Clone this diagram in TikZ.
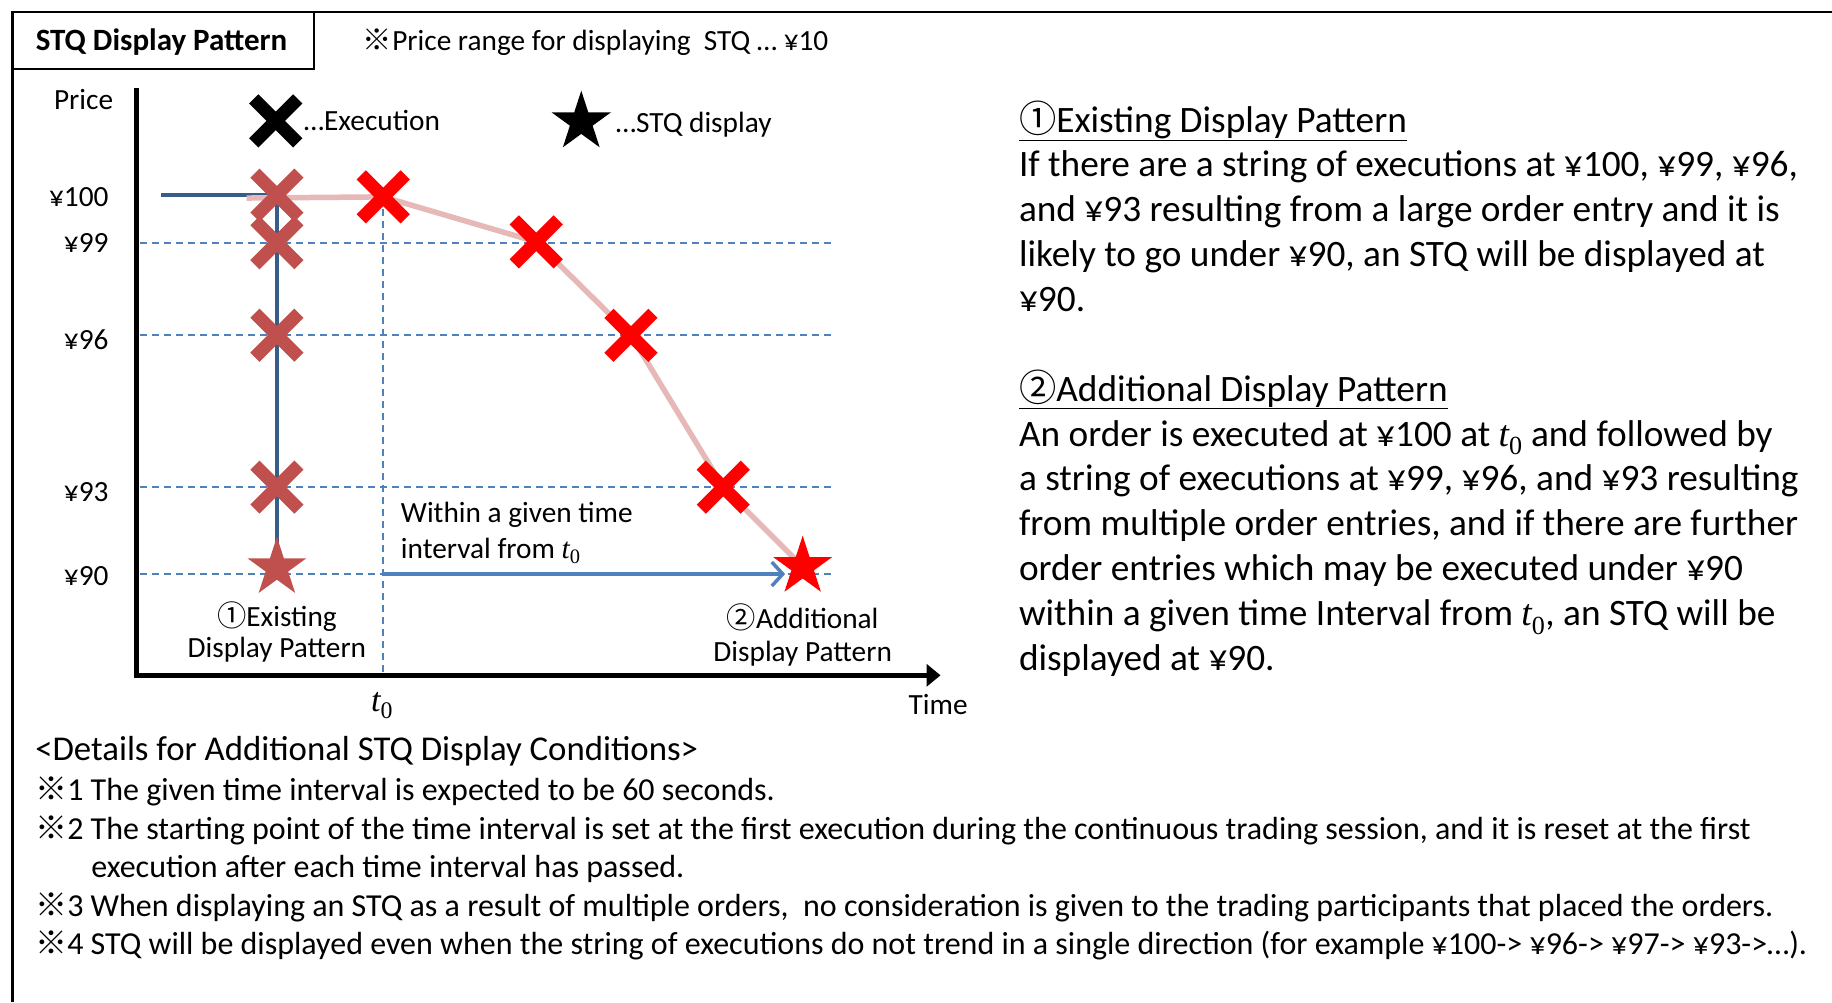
\documentclass[tikz,border=0pt]{standalone}
\usepackage{fontspec}
\setmainfont{Carlito}
\newfontfamily\cjk{Noto Sans CJK JP}
\newfontfamily\serif{Liberation Serif}
\usetikzlibrary{backgrounds,shapes.geometric,shapes.misc,arrows.meta}

\definecolor{exred}{HTML}{FF0000}
\definecolor{oldred}{HTML}{C0504D}
\definecolor{pathpink}{HTML}{E6B9B8}
\definecolor{lineblue}{HTML}{4F81BD}
\definecolor{darkblue}{HTML}{385D8A}

\newcommand{\kome}{{\cjk ※}}
\newcommand{\circone}{{\cjk ①}}
\newcommand{\circtwo}{{\cjk ②}}
\newcommand{\tzero}{{\serif\itshape t}\textsubscript{\serif 0}}

\begin{document}
\begin{tikzpicture}[
    x=1.1684pt, y=-1.1684pt,
    every node/.style={inner sep=0pt},
    lbl/.style={font=\fontsize{29.3}{35}\selectfont},
    body/.style={font=\fontsize{37.3}{45}\selectfont, anchor=base west},
    note/.style={font=\fontsize{32}{39}\selectfont, anchor=base west},
    pricegrid/.style={lineblue, line width=2pt, dash pattern=on 7pt off 5pt},
    execx/.style={cross out, draw=#1, line width=13pt, minimum size=31pt},
    stqstar/.style={star, star points=5, star point ratio=2.618, fill=#1, minimum size=62pt}
    ]

    \useasboundingbox (0,0) rectangle (1568,858);

    % frame and title
    \draw[line width=2.3pt] (10.6,858) -- (10.6,10) -- (1568,10);
    \draw[line width=1.8pt] (10.6,10) rectangle (269,59.3);
    \node[anchor=base, font=\bfseries\fontsize{31}{36}\selectfont] (title) at (138.3,43.5) {STQ Display Pattern};
    \node[lbl, anchor=base west] (range) at (310.5,43.5) {\kome Price range for displaying\ \ STQ … ¥10};

    % axes
    \coordinate (ytop) at (117,75);
    \coordinate (origin) at (117,578);
    \coordinate (xend) at (805,578);
    \draw[line width=4.7pt, line join=miter, -{Triangle[length=14pt,width=22pt]}] (ytop) -- (origin) -- (xend);
    \node[lbl, anchor=base east] (price) at (97,94) {Price};
    \foreach \p/\y in {100/177,99/216,96/299,93/429,90/501}
      \node[lbl, anchor=base east] (y\p) at (93,\y) {¥\p};
    \node[lbl, anchor=base, font=\fontsize{34}{40}\selectfont] (t0) at (327,608.6) {\tzero};
    \node[lbl, anchor=base] (time) at (803,611.7) {Time};

    % legend
    \node[execx=black] (legx) at (236,103.5) {};
    \node[lbl, anchor=base west] (legxtxt) at (260,112) {…Execution};
    \node[stqstar=black, minimum size=62.6pt] (legstar) at (497.5,104.4) {};
    \node[lbl, anchor=base west] (legstartxt) at (527,113) {…STQ display};

    % existing pattern
    \foreach \n/\y in {1/167,2/207.7,3/286.9,4/416.9}
      \node[execx=oldred] (o\n) at (237,\y) {};
    \node[stqstar=oldred] (ostar) at (237,486) {};
    \coordinate (ostart) at (137.8,167);

    % additional pattern
    \foreach \n/\x/\y in {1/328/168.5,2/459/207,3/540/287,4/619/417}
      \node[execx=exred] (n\n) at (\x,\y) {};
    \node[stqstar=exred] (nstar) at (687,485) {};
    \coordinate (nstart) at (211,169.5);
    \coordinate (tgrid) at (328,491.3);
    \coordinate (tarrow) at (672,491.3);

    \begin{scope}[on background layer]
      \foreach \y in {207.7,286.9,416.9,491.3}
        \draw[pricegrid] (120,\y) -- (713,\y);
      \draw[pricegrid] (n1.center) -- (328,578);
      \draw[darkblue, line width=4.5pt] (ostart) -- (o1.center) -- (ostar.center);
      \draw[pathpink, line width=5.5pt] (nstart) -- (n1.center) -- (n2.center)
        -- (n3.center) -- (n4.center) -- (nstar.center);
      \draw[lineblue, line width=3.5pt, -{Straight Barb[length=11pt,width=24pt]}] (tgrid) -- (tarrow);
    \end{scope}

    \node[lbl, anchor=base west] (within1) at (343,447.5) {Within a given time};
    \node[lbl, anchor=base west] (within2) at (343,478) {interval from \tzero};
    \node[lbl, anchor=base] (exist1) at (237,536) {\circone Existing};
    \node[lbl, anchor=base] (exist2) at (237,563) {Display Pattern};
    \node[lbl, anchor=base] (add1) at (687,538) {\circtwo Additional};
    \node[lbl, anchor=base] (add2) at (687,566) {Display Pattern};

    % explanation
    \foreach \txt [count=\i from 0] in {
        {\underline{\circone Existing Display Pattern}},
        {If there are a string of executions at ¥100, ¥99, ¥96,},
        {and ¥93 resulting from a large order entry and it is},
        {likely to go under ¥90, an STQ will be displayed at},
        {¥90.},
        {},
        {\underline{\circtwo Additional Display Pattern}},
        {An order is executed at ¥100 at \tzero{} and followed by},
        {a string of executions at ¥99, ¥96, and ¥93 resulting},
        {from multiple order entries, and if there are further},
        {order entries which may be executed under ¥90},
        {within a given time Interval from \tzero, an STQ will be},
        {displayed at ¥90.}}
      \node[body] (r\i) at (872,113+38.4*\i) {\txt};

    % conditions
    \node[note, font=\fontsize{34.8}{40}\selectfont] (c0) at (30,651) {<Details for Additional STQ Display Conditions>};
    \node[note] (c1) at (30,684.8) {\kome 1 The given time interval is expected to be 60 seconds.};
    \node[note] (c2) at (30,718.5) {\kome 2 The starting point of the time interval is set at the first execution during the continuous trading session, and it is reset at the first};
    \node[note] (c2b) at (78,750.7) {execution after each time interval has passed.};
    \node[note] (c3) at (30,784.4) {\kome 3 When displaying an STQ as a result of multiple orders,\ \ no consideration is given to the trading participants that placed the orders.};
    \node[note] (c4) at (30,816.6) {\kome 4 STQ will be displayed even when the string of executions do not trend in a single direction (for example ¥100-> ¥96-> ¥97-> ¥93->…).};

\end{tikzpicture}
\end{document}
